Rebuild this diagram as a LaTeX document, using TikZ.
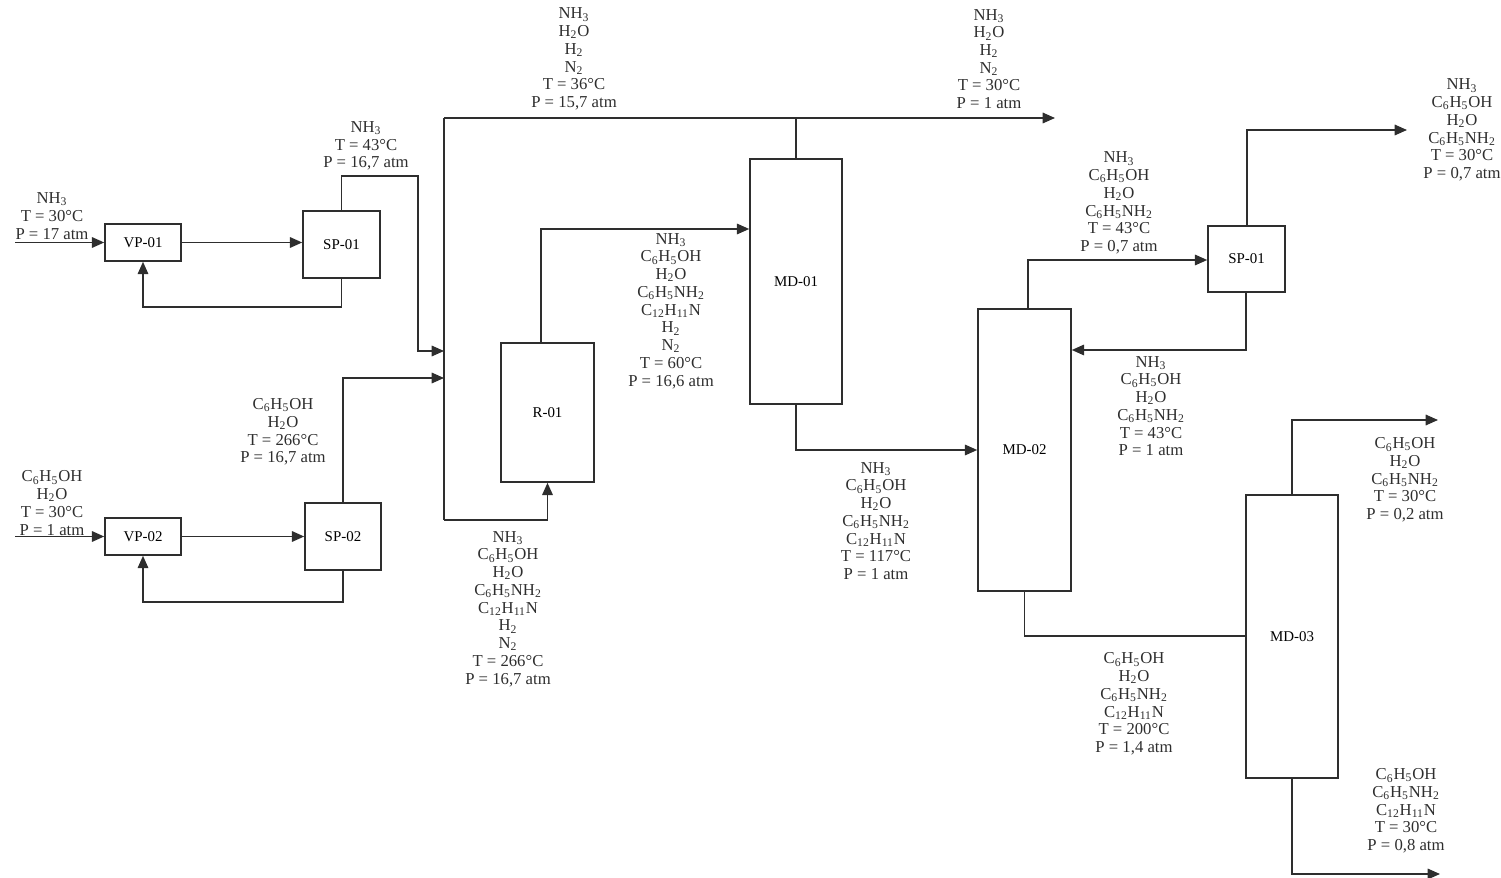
\documentclass[tikz,border=0pt]{standalone}
\usepackage{fontspec}
\setmainfont{Liberation Serif}
\usetikzlibrary{arrows.meta}
\definecolor{ln}{HTML}{2E2E2E}
\newcommand{\sbs}[1]{\textsubscript{#1}}
\begin{document}
\begin{tikzpicture}[x=0.02cm,y=-0.02cm,
  unitbox/.style={draw=ln,line width=0.9pt,fill=white,inner sep=0pt,font=\fontsize{8.5}{10}\selectfont},
  lab/.style={align=center,inner sep=0pt,text=ln,font=\fontsize{9.5}{10.1}\selectfont},
  flow/.style={draw=ln,line width=0.9pt},
  arr/.style={flow,-{Triangle[length=7pt,width=6pt]}}]
\useasboundingbox (0,0) rectangle (1501,878);

% units
\node[unitbox,minimum width=1.52cm,minimum height=0.74cm] (vp1) at (143,242.5) {VP-01};
\node[unitbox,minimum width=1.54cm,minimum height=1.34cm] (sp1) at (341.5,244.5) {SP-01};
\node[unitbox,minimum width=1.52cm,minimum height=0.74cm] (vp2) at (143,536.5) {VP-02};
\node[unitbox,minimum width=1.52cm,minimum height=1.34cm] (sp2) at (343,536.5) {SP-02};
\node[unitbox,minimum width=1.86cm,minimum height=2.78cm] (r01) at (547.5,412.5) {R-01};
\node[unitbox,minimum width=1.84cm,minimum height=4.90cm] (md1) at (796,281.5) {MD-01};
\node[unitbox,minimum width=1.86cm,minimum height=5.64cm] (md2) at (1024.5,450) {MD-02};
\node[unitbox,minimum width=1.54cm,minimum height=1.32cm] (sp3) at (1246.5,259) {SP-01};
\node[unitbox,minimum width=1.84cm,minimum height=5.66cm] (md3) at (1292,636.5) {MD-03};

% coordinates
\coordinate (in1) at (15,242.5);
\coordinate (in2) at (15,536.5);
\coordinate (r1) at (143,307);
\coordinate (r2) at (143,602);
\coordinate (j1) at (418,176);
\coordinate (j2) at (418,351);
\coordinate (m1) at (444,351);
\coordinate (m2) at (444,378);
\coordinate (top1) at (444,118);
\coordinate (outTop) at (1055,118);
\coordinate (mixBot) at (444,520);
\coordinate (a1) at (541,229);
\coordinate (b1) at (796,450);
\coordinate (c1) at (1028,260);
\coordinate (d1) at (1247,130);
\coordinate (d2) at (1407,130);
\coordinate (e1) at (1246,350);
\coordinate (f1) at (1024.5,636);
\coordinate (g1) at (1292,420);
\coordinate (g2) at (1438,420);
\coordinate (h1) at (1292,874);
\coordinate (h2) at (1440,874);

% connectors
\draw[arr] (in1) -- (in1 -| vp1.west);
\draw[arr] (vp1.east) -- (vp1.east -| sp1.west);
\draw[arr] (sp1.south) |- (r1) -- (vp1.south);
\draw[arr] (sp1.north) |- (j1) -- (j2) -- (m1);

\draw[arr] (in2) -- (in2 -| vp2.west);
\draw[arr] (vp2.east) -- (vp2.east -| sp2.west);
\draw[arr] (sp2.south) |- (r2) -- (vp2.south);
\draw[arr] (sp2.north) |- (m2);

\draw[flow] (top1) -- (mixBot);
\draw[arr] (mixBot) -| (r01.south);
\draw[arr] (top1) -- (outTop);
\draw[flow] (md1.north) -- (md1.north |- top1);

\draw[arr] (r01.north -| a1) -- (a1) -- (a1 -| md1.west);
\draw[arr] (md1.south) -- (b1) -- (b1 -| md2.west);
\draw[arr] (md2.north -| c1) -- (c1) -- (c1 -| sp3.west);
\draw[arr] (sp3.north -| d1) -- (d1) -- (d2);
\draw[arr] (sp3.south -| e1) -- (e1) -- (e1 -| md2.east);
\draw[flow] (md2.south) -- (f1) -- (f1 -| md3.west);
\draw[arr] (md3.north) -- (g1) -- (g2);
\draw[arr] (md3.south) -- (h1) -- (h2);

% labels
\node[lab] (L1) at (52,216) {NH\sbs{3}\\T = 30°C\\P = 17 atm};
\node[lab] (L2) at (366,146) {NH\sbs{3}\\T = 43°C\\P = 16,7 atm};
\node[lab] (L3) at (52,503) {C\sbs{6}H\sbs{5}OH\\H\sbs{2}O\\T = 30°C\\P = 1 atm};
\node[lab] (L4) at (283,432) {C\sbs{6}H\sbs{5}OH\\H\sbs{2}O\\T = 266°C\\P = 16,7 atm};
\node[lab] (L5) at (574,59) {NH\sbs{3}\\H\sbs{2}O\\H\sbs{2}\\N\sbs{2}\\T = 36°C\\P = 15,7 atm};
\node[lab] (L6) at (989,59) {NH\sbs{3}\\H\sbs{2}O\\H\sbs{2}\\N\sbs{2}\\T = 30°C\\P = 1 atm};
\node[lab] (L7) at (671,311) {NH\sbs{3}\\C\sbs{6}H\sbs{5}OH\\H\sbs{2}O\\C\sbs{6}H\sbs{5}NH\sbs{2}\\C\sbs{12}H\sbs{11}N\\H\sbs{2}\\N\sbs{2}\\T = 60°C\\P = 16,6 atm};
\node[lab] (L8) at (508,609) {NH\sbs{3}\\C\sbs{6}H\sbs{5}OH\\H\sbs{2}O\\C\sbs{6}H\sbs{5}NH\sbs{2}\\C\sbs{12}H\sbs{11}N\\H\sbs{2}\\N\sbs{2}\\T = 266°C\\P = 16,7 atm};
\node[lab] (L9) at (876,521) {NH\sbs{3}\\C\sbs{6}H\sbs{5}OH\\H\sbs{2}O\\C\sbs{6}H\sbs{5}NH\sbs{2}\\C\sbs{12}H\sbs{11}N\\T = 117°C\\P = 1 atm};
\node[lab] (L10) at (1119,203) {NH\sbs{3}\\C\sbs{6}H\sbs{5}OH\\H\sbs{2}O\\C\sbs{6}H\sbs{5}NH\sbs{2}\\T = 43°C\\P = 0,7 atm};
\node[lab] (L11) at (1151,406) {NH\sbs{3}\\C\sbs{6}H\sbs{5}OH\\H\sbs{2}O\\C\sbs{6}H\sbs{5}NH\sbs{2}\\T = 43°C\\P = 1 atm};
\node[lab] (L12) at (1462,130) {NH\sbs{3}\\C\sbs{6}H\sbs{5}OH\\H\sbs{2}O\\C\sbs{6}H\sbs{5}NH\sbs{2}\\T = 30°C\\P = 0,7 atm};
\node[lab] (L13) at (1405,480) {C\sbs{6}H\sbs{5}OH\\H\sbs{2}O\\C\sbs{6}H\sbs{5}NH\sbs{2}\\T = 30°C\\P = 0,2 atm};
\node[lab] (L14) at (1134,704) {C\sbs{6}H\sbs{5}OH\\H\sbs{2}O\\C\sbs{6}H\sbs{5}NH\sbs{2}\\C\sbs{12}H\sbs{11}N\\T = 200°C\\P = 1,4 atm};
\node[lab] (L15) at (1406,811) {C\sbs{6}H\sbs{5}OH\\C\sbs{6}H\sbs{5}NH\sbs{2}\\C\sbs{12}H\sbs{11}N\\T = 30°C\\P = 0,8 atm};
\end{tikzpicture}
\end{document}
